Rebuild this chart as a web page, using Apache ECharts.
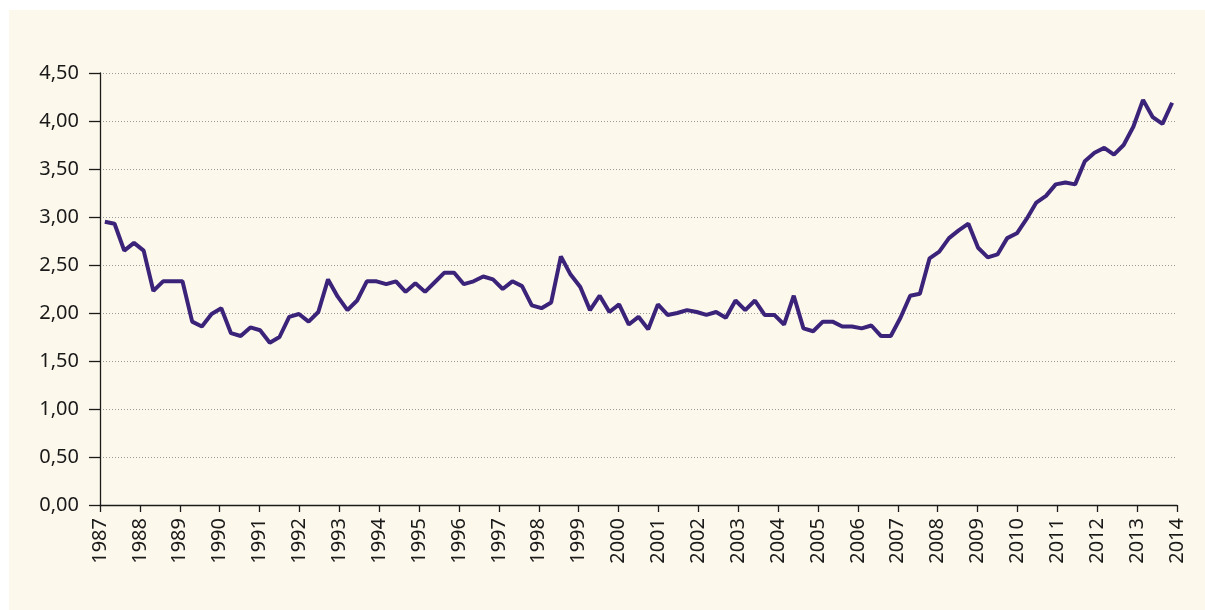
<!DOCTYPE html>
<html>
<head>
<meta charset="utf-8">
<script src="https://cdn.jsdelivr.net/npm/echarts@6/dist/echarts.min.js"></script>
<style>
html, body { margin: 0; padding: 0; background: #ffffff; }
#main {
    position: absolute;
    left: 9px;
    top: 10px;
    width: 1196px;
    height: 600px;
    background: #fdf8ec;
}
</style>
</head>
<body>
<div id="main"></div>
<script>
// tick labels of the year axis
var years = [1987, 1988, 1989, 1990, 1991, 1992, 1993, 1994, 1995, 1996, 1997, 1998, 1999, 2000,
    2001, 2002, 2003, 2004, 2005, 2006, 2007, 2008, 2009, 2010, 2011, 2012, 2013, 2014];

// values, one per period (111 periods)
var values = [
    2.95, 2.93, 2.65, 2.73, 2.65, 2.23, 2.33, 2.33, 2.33, 1.91,
    1.86, 1.99, 2.05, 1.79, 1.76, 1.85, 1.82, 1.69, 1.75, 1.96,
    1.99, 1.91, 2.01, 2.35, 2.17, 2.03, 2.13, 2.33, 2.33, 2.30,
    2.33, 2.22, 2.31, 2.22, 2.32, 2.42, 2.42, 2.30, 2.33, 2.38,
    2.35, 2.25, 2.33, 2.28, 2.08, 2.05, 2.11, 2.59, 2.40, 2.27,
    2.03, 2.18, 2.01, 2.09, 1.88, 1.96, 1.83, 2.09, 1.98, 2.00,
    2.03, 2.01, 1.98, 2.01, 1.95, 2.13, 2.03, 2.13, 1.98, 1.98,
    1.88, 2.18, 1.84, 1.81, 1.91, 1.91, 1.86, 1.86, 1.84, 1.87,
    1.76, 1.76, 1.95, 2.18, 2.20, 2.57, 2.64, 2.78, 2.86, 2.93,
    2.68, 2.58, 2.61, 2.78, 2.83, 2.98, 3.15, 3.22, 3.34, 3.36,
    3.34, 3.58, 3.67, 3.72, 3.65, 3.75, 3.94, 4.22, 4.04, 3.97,
    4.19
];

// period labels (quarters), only used by the hidden category axis
var periods = [];
years.forEach(function (y) {
    for (var q = 1; q <= 4; q++) {
        if (periods.length < values.length) periods.push(y + ' T' + q);
    }
});

var myChart = echarts.init(document.getElementById('main'));
var labelFont = {
    fontFamily: 'Noto Sans',
    fontSize: 20,
    color: '#1a1a1a'
};

myChart.setOption({
    animation: false,
    grid: {
        left: 91,
        right: 28,
        top: 63,
        bottom: 105
    },
    xAxis: [
        {
            type: 'value',
            min: 1987,
            max: 2014,
            interval: 1,
            position: 'bottom',
            axisLine: { show: true, onZero: false, lineStyle: { color: '#1a1a1a', width: 1.3 } },
            axisTick: { show: true, length: 7, lineStyle: { color: '#1a1a1a', width: 1.3 } },
            splitLine: { show: false },
            axisLabel: Object.assign({
                rotate: 90,
                margin: 13,
                formatter: function (v) { return String(v); }
            }, labelFont)
        },
        {
            type: 'category',
            data: periods,
            boundaryGap: true,
            show: false
        }
    ],
    yAxis: {
        type: 'value',
        min: 0,
        max: 4.5,
        interval: 0.5,
        axisLine: { show: true, lineStyle: { color: '#1a1a1a', width: 1.3 } },
        axisTick: { show: true, length: 11, lineStyle: { color: '#1a1a1a', width: 1.3 } },
        splitLine: {
            show: true,
            lineStyle: { color: '#9a9a9a', width: 1, type: [1, 2] }
        },
        axisLabel: Object.assign({
            margin: 21,
            formatter: function (v) { return v.toFixed(2).replace('.', ','); }
        }, labelFont)
    },
    series: [
        {
            type: 'line',
            xAxisIndex: 1,
            data: values,
            symbol: 'none',
            lineStyle: { color: '#3b237a', width: 4 },
            z: 3
        }
    ]
});
</script>
</body>
</html>
